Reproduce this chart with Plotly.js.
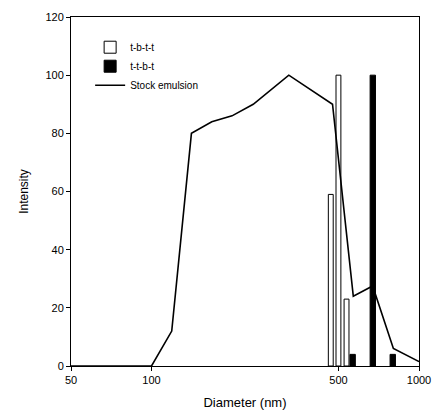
<!DOCTYPE html>
<html><head><meta charset="utf-8">
<script src="https://cdn.plot.ly/plotly-3.0.1.min.js"></script>
<style>body{margin:0;background:#fff}#c{width:432px;height:418px}</style>
</head><body><div id="c"></div>
<script>
// Data
const tbttX = [468, 500, 536];
const tbttY = [59, 100, 23];
const ttbtX = [565, 672, 798];
const ttbtY = [4, 100, 4];
const stockX = [50, 100, 119, 141, 168, 200, 240, 280, 326, 475, 568, 671, 802, 1000];
const stockY = [0, 0, 12, 80, 84, 86, 90, 95, 100, 90, 24, 27.5, 6, 1.5];
const xTickVals = [50, 100, 500, 1000];
const xTickText = ['50', '100', '500', '1000'];
const yTickVals = [0, 20, 40, 60, 80, 100, 120];

// bar widths as a constant fraction of the position (constant width on log axis)
const wf = 0.042;
const traces = [
  {type:'bar', name:'t-b-t-t', x:tbttX, y:tbttY, width:tbttX.map(v=>v*wf),
   marker:{color:'#ffffff', line:{color:'#000', width:1}}},
  {type:'bar', name:'t-t-b-t', x:ttbtX, y:ttbtY, width:ttbtX.map(v=>v*wf*1.1),
   marker:{color:'#000000', line:{color:'#000', width:1}}},
  {type:'scatter', mode:'lines', name:'Stock emulsion', x:stockX, y:stockY,
   line:{color:'#000', width:1.6}}
];
const font = {family:'Liberation Sans, Arial, sans-serif', color:'#000'};
const layout = {
  width:432, height:418,
  margin:{l:71, r:13, t:17, b:52},
  paper_bgcolor:'#fff', plot_bgcolor:'#fff',
  font:Object.assign({size:10}, font),
  barmode:'overlay',
  showlegend:true,
  legend:{x:0.055, y:0.955, xanchor:'left', yanchor:'top', bgcolor:'rgba(0,0,0,0)',
    font:Object.assign({size:10}, font), tracegroupgap:0, itemwidth:30},
  xaxis:{type:'log', range:[Math.log10(50), Math.log10(1000)],
    tickvals:xTickVals, ticktext:xTickText, ticks:'outside', ticklen:4, tickcolor:'#000',
    showline:true, linecolor:'#000', linewidth:1, mirror:true, showgrid:false, zeroline:false,
    tickfont:Object.assign({size:11}, font),
    title:{text:'Diameter (nm)', font:Object.assign({size:13}, font), standoff:12}},
  yaxis:{range:[0,120], tickvals:yTickVals, ticks:'outside', ticklen:4, tickcolor:'#000',
    showline:true, linecolor:'#000', linewidth:1, mirror:true, showgrid:false, zeroline:false,
    tickfont:Object.assign({size:11}, font),
    title:{text:'Intensity', font:Object.assign({size:12}, font), standoff:14}}
};
Plotly.newPlot('c', traces, layout, {displayModeBar:false, staticPlot:true});
</script></body></html>
